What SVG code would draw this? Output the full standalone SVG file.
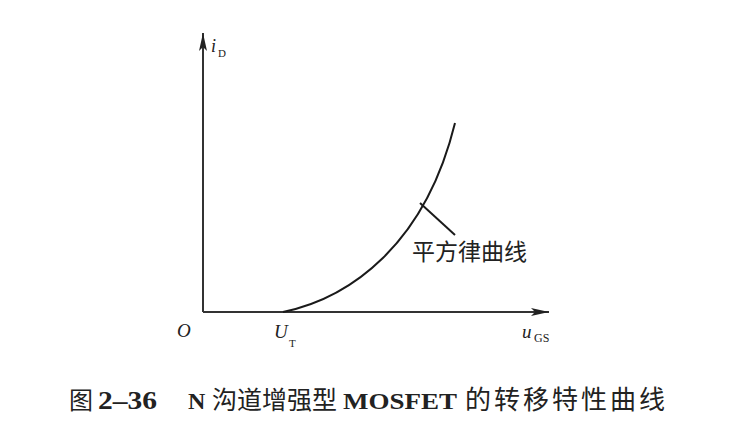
<svg xmlns="http://www.w3.org/2000/svg" width="734" height="447" viewBox="0 0 734 447">
<defs>
<style>
.ax{stroke:#333;stroke-width:2;fill:none}
.cv{stroke:#1a1a1a;stroke-width:2;fill:none}
.it{font-family:"Liberation Serif",serif;font-style:italic;fill:#222}
.sub{font-family:"Liberation Serif",serif;fill:#222}
.cjk{font-family:"Noto Sans CJK SC","Liberation Serif",serif;fill:#222}
.ser{font-family:"Liberation Serif",serif;font-weight:bold;fill:#222}
</style>
<marker id="ah" viewBox="0 0 18 8" refX="18" refY="4" markerWidth="18" markerHeight="8" markerUnits="userSpaceOnUse" orient="auto">
<path d="M0,0 L18,4 L0,8 L4,4 Z" fill="#222"/>
</marker>
</defs>
<rect width="734" height="447" fill="#fff"/>
<g id="connectors">
<path class="ax" d="M203,312 L203,33" marker-end="url(#ah)"/>
<path class="ax" d="M203,312 L549,312" marker-end="url(#ah)"/>
<path id="curve" class="cv" d="M283,312 C350,298 425,245 455,123"/>
<path id="leader" class="cv" stroke-width="1.6" d="M420,203 L455,235"/>
</g>
<g id="label-iD">
<text class="it" x="211" y="52" font-size="18">i</text>
<text class="sub" x="218" y="57" font-size="11">D</text>
</g>
<g id="label-O"><text class="it" x="177" y="337" font-size="19">O</text></g>
<g id="label-UT">
<text class="it" x="274" y="338" font-size="19">U</text>
<text class="sub" x="289" y="347" font-size="11">T</text>
</g>
<g id="label-uGS">
<text class="it" x="522" y="338" font-size="19">u</text>
<text class="sub" x="534" y="342" font-size="12">GS</text>
</g>
<g id="label-curve"><text class="cjk" x="412" y="260" font-size="23">平方律曲线</text></g>
<g id="caption">
<text class="cjk" x="69" y="409" font-size="24">图</text>
<text class="ser" x="98" y="409" font-size="25" textLength="59" lengthAdjust="spacingAndGlyphs">2–36</text>
<text class="ser" x="188" y="409" font-size="24">N</text>
<text class="cjk" x="212" y="409" font-size="25">沟道增强型</text>
<text class="ser" x="343" y="409" font-size="24" textLength="114" lengthAdjust="spacingAndGlyphs">MOSFET</text>
<text class="cjk" x="465" y="409" font-size="26" letter-spacing="3">的转移特性曲线</text>
</g>
</svg>
